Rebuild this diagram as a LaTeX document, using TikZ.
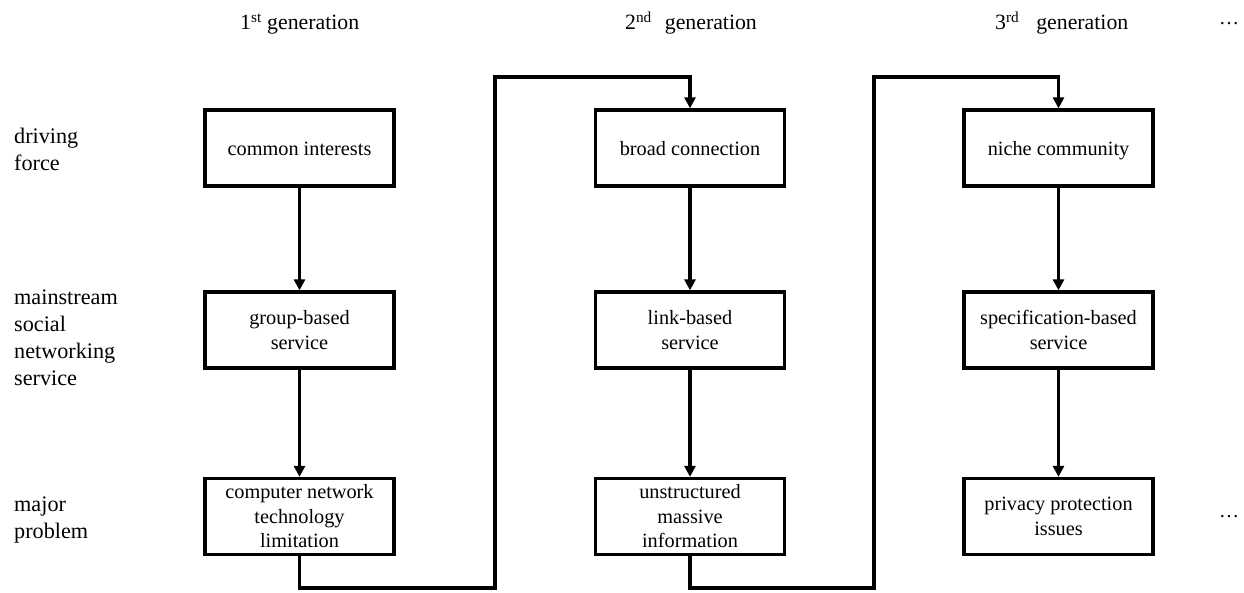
\documentclass[tikz,border=0pt]{standalone}
\usepackage{fontspec}
\setmainfont{Liberation Serif}
\usetikzlibrary{arrows.meta}
\begin{document}
\begin{tikzpicture}[x=1pt,y=-1pt,
  box/.style={draw,line width=3.3pt,minimum width=189pt,minimum height=76pt,
    inner sep=0pt,align=center,font=\fontsize{20.3}{24.5}\selectfont},
  oneline/.style={text height=15.5pt,text depth=0pt},
  rowlabel/.style={anchor=north west,inner sep=0pt,align=left,
    font=\fontsize{22.2}{26.8}\selectfont},
  head/.style={anchor=base west,inner sep=0pt,font=\fontsize{21.8}{26}\selectfont},
  dots/.style={inner sep=0pt,font=\fontsize{20}{24}\selectfont},
  arr/.style={line width=3.3pt,-{Triangle[length=11pt,width=11pt]}}]
\useasboundingbox (0,0) rectangle (1244,593);

% generation headings
\node[head] (g1) at (240,30) {1\textsuperscript{st} generation};
\node[head] (g2) at (625,30) {2\textsuperscript{nd}\hspace{13pt}generation};
\node[head] (g3) at (995,30) {3\textsuperscript{rd}\hspace{17pt}generation};
\node[dots] (more1) at (1229,24) {\ldots};

% row labels
\node[rowlabel] (l1) at (14,128) {driving\\force};
\node[rowlabel] (l2) at (14,290) {mainstream\\social\\networking\\service};
\node[rowlabel] (l3) at (14,497) {major\\problem};

% first generation
\node[box,oneline] (a1) at (299.5,148) {common interests};
\node[box] (a2) at (299.5,330) {group-based\\service};
\node[box] (a3) at (299.5,516.5) {computer network\\technology\\limitation};

% second generation
\node[box,oneline] (b1) at (690,148) {broad connection};
\node[box] (b2) at (690,330) {link-based\\service};
\node[box] (b3) at (690,516.5) {unstructured\\massive\\information};

% third generation
\node[box,oneline] (c1) at (1058.5,148) {niche community};
\node[box] (c2) at (1058.5,330) {specification-based\\service};
\node[box] (c3) at (1058.5,516.5) {privacy protection\\issues};
\node[dots] (more2) at (1229,517) {\ldots};

% routing levels for the links between generations
\coordinate (low) at (0,588);
\coordinate (high) at (0,77);
\coordinate (gapA) at (495,0);
\coordinate (gapB) at (874,0);

% arrows within each generation
\draw[arr] (a1) -- (a2);
\draw[arr] (a2) -- (a3);
\draw[arr] (b1) -- (b2);
\draw[arr] (b2) -- (b3);
\draw[arr] (c1) -- (c2);
\draw[arr] (c2) -- (c3);

% links from one generation to the next
\draw[arr] (a3.south) |- (gapA |- low) -- (gapA |- high) -| (b1.north);
\draw[arr] (b3.south) |- (gapB |- low) -- (gapB |- high) -| (c1.north);
\end{tikzpicture}
\end{document}
